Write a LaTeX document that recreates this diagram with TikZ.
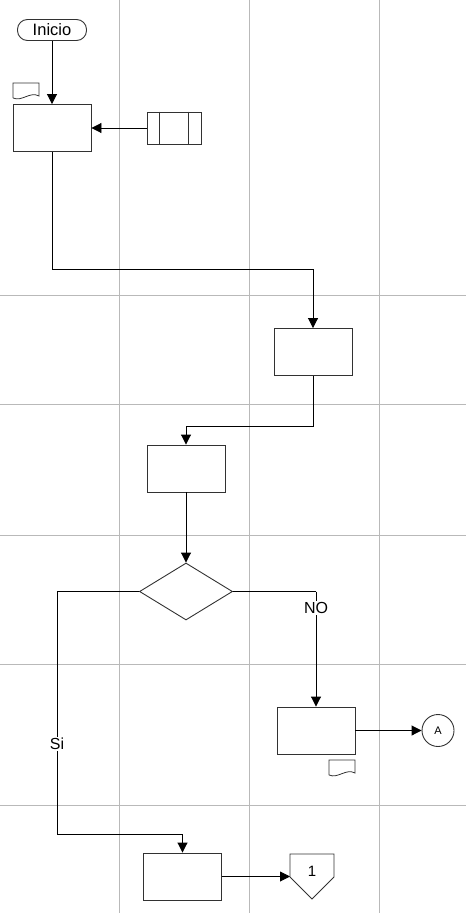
\documentclass[tikz,border=0pt]{standalone}
\usepackage{fontspec}
\setmainfont{Liberation Sans}
\usetikzlibrary{arrows.meta,shapes.geometric}
\definecolor{gridc}{RGB}{185,185,185}
\definecolor{edgec}{RGB}{50,50,50}
\tikzset{
  gridline/.style={draw=gridc,line width=1pt},
  shp/.style={draw=edgec,line width=0.9pt},
  proc/.style={shp,rectangle,minimum width=78pt,minimum height=47pt,inner sep=0pt},
  term/.style={shp,rectangle,rounded corners=10pt,minimum width=69pt,minimum height=21pt,inner sep=0pt,font=\fontsize{16.5}{18}\selectfont},
  arr/.style={draw=black,line width=0.9pt,-{Triangle[length=10pt,width=10pt]}},
  conn/.style={draw=black,line width=0.9pt},
  lbl/.style={fill=white,inner sep=1.5pt,font=\fontsize{16}{18}\selectfont},
}
\begin{document}
\begin{tikzpicture}[x=1pt,y=-1pt]
\useasboundingbox (0,0) rectangle (466,915);
% grid
\foreach \gx in {119,249,379} \draw[gridline] (\gx,0) -- (\gx,913);
\foreach \gy in {295,404,535,664,805} \draw[gridline] (0,\gy) -- (466,\gy);
% nodes
\node[term] (inicio) at (52,30) {Inicio};
\node[proc] (b1) at (52,128) {};
\node[proc,minimum width=54pt,minimum height=32pt] (st) at (174,128) {};
\draw[shp] ([xshift=13pt]st.north west) -- ([xshift=13pt]st.south west);
\draw[shp] ([xshift=-13pt]st.north east) -- ([xshift=-13pt]st.south east);
\node[proc] (b2) at (313,352) {};
\node[proc] (b3) at (186,468.5) {};
\node[shp,diamond,minimum width=93pt,minimum height=57pt,inner sep=0pt] (dia) at (186,591.5) {};
\node[proc] (b4) at (316,730.5) {};
\node[shp,circle,minimum size=32pt,inner sep=0pt,font=\fontsize{11}{13}\selectfont] (A) at (438,730.5) {A};
\node[proc] (b5) at (182.5,876.5) {};
\node[inner sep=0pt,font=\fontsize{15}{17}\selectfont] (op) at (312,871) {1};
\draw[shp] (290,854) -- (334,854) -- (334,877) -- (312,899) -- (290,877) -- cycle;
\coordinate (opw) at (290,876.5);
% documents
\draw[shp,line width=0.8pt] (13,98) -- (13,83) -- (39,83) -- (39,96) .. controls (30,91) and (22,102) .. (13,98);
\draw[shp,line width=0.8pt] (329,775) -- (329,760) -- (355,760) -- (355,773) .. controls (346,768) and (338,779) .. (329,775);
% connectors
\draw[arr] (inicio) -- (b1);
\draw[arr] (st.west) -- (b1.east);
\draw[arr] (b1.south) -- ++(0,117) -| (b2.north);
\draw[arr] (b2.south) -- ++(0,50) -| (b3.north);
\draw[arr] (b3.south) -- (dia.north);
\draw[conn] (dia.west) -- (57,591.5);
\draw[arr] (57,591.5) -- node[lbl,pos=0.629] {Si} (57,834) -| (b5.north);
\draw[conn] (dia.east) -- (316,591.5);
\draw[arr] (316,591.5) -- node[lbl,pos=0.143] {NO} (b4.north);
\draw[arr] (b4.east) -- (A.west);
\draw[arr] (b5.east) -- (opw);
\end{tikzpicture}
\end{document}
